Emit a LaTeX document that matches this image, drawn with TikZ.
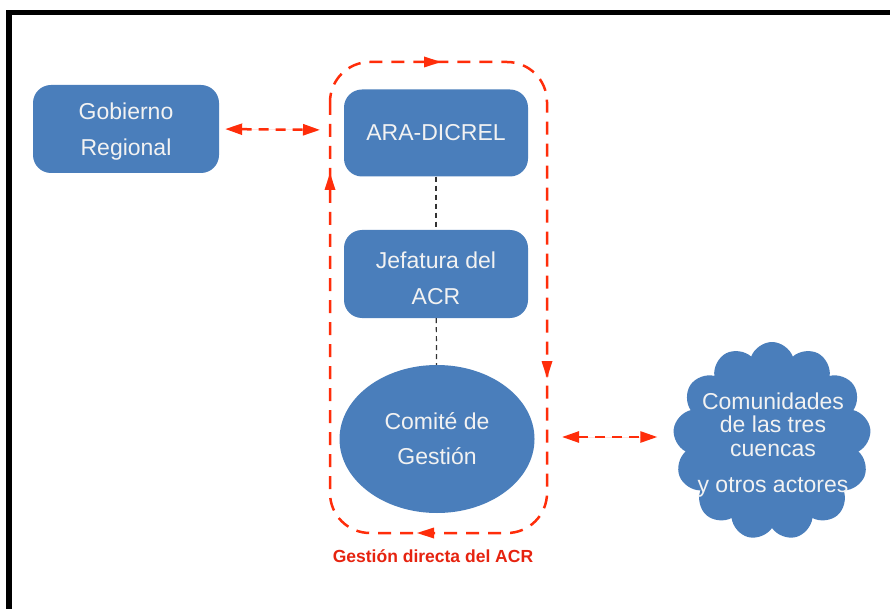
\documentclass[tikz,border=0pt]{standalone}
\usepackage{fontspec}
\setmainfont{Liberation Sans}
\usetikzlibrary{arrows.meta,shapes.geometric,shapes.symbols}
\definecolor{boxblue}{RGB}{74,126,187}
\definecolor{arrred}{RGB}{255,45,10}
\definecolor{lblred}{RGB}{230,35,15}
\definecolor{txtc}{RGB}{242,242,242}
\newcommand{\topstrut}{\rule{0pt}{0.92em}}
\newcommand{\topstrutb}{\rule{0pt}{1.1em}}
\tikzset{
  bluebox/.style={draw=none, fill=boxblue, rounded corners=18pt, text=txtc, align=center,
    font=\fontsize{23}{36}\selectfont, inner sep=0pt},
  blueell/.style={ellipse, draw=none, fill=boxblue, text=txtc, align=center,
    font=\fontsize{23}{35}\selectfont, inner sep=0pt},
  bluecloud/.style={cloud, cloud puffs=13, cloud puff arc=140, aspect=1, draw=none, fill=boxblue, inner sep=0pt},
  cloudtxt/.style={text=txtc, align=center, font=\fontsize{23}{23.5}\selectfont, inner sep=0pt},
  redtip/.tip={Triangle[length=17pt,width=11pt]},
  redarrow/.style={draw=arrred, fill=arrred, line width=2.5pt, dash pattern=on 10pt off 7pt, {redtip}-{redtip}},
  loopline/.style={draw=arrred, line width=2.5pt, dash pattern=on 13pt off 9pt, rounded corners=40pt},
  conn/.style={draw=black!80, line width=1.2pt, dash pattern=on 5pt off 4pt},
}
\begin{document}
\begin{tikzpicture}[x=1pt,y=-1pt]
\useasboundingbox (0,0) rectangle (890,609);
\fill[white] (0,0) rectangle (890,609);
% frame
\draw[line width=5.5pt] (9,609) -- (9,12.5) -- (890,12.5);

% nodes
\node[bluebox, minimum width=186pt, minimum height=88pt] (gob) at (126,129) {\topstrut Gobierno\\Regional};
\node[bluebox, minimum width=184pt, minimum height=87pt] (ara) at (436,133) {ARA-DICREL};
\node[bluebox, minimum width=184pt, minimum height=88pt] (jef) at (436,274) {\topstrutb Jefatura del\\ACR};
\node[blueell, minimum width=195pt, minimum height=148pt] (com) at (437,439) {Comité de\\Gestión};
\node[bluecloud, minimum width=198pt, minimum height=198pt] (cld) at (772,441) {};
\node[cloudtxt] (cldt) at (773,445) {Comunidades\\de las tres\\cuencas\\[13pt]y otros actores};

% vertical dashed connectors
\draw[conn] (ara) -- (jef);
\draw[conn] (jef) -- (com);

% loop
\draw[loopline] (330,62) rectangle (547,533);
\coordinate (loopL) at (330,130);
\coordinate (loopR) at (547,437);
\fill[arrred] (441,62) -- (424,56.5) -- (424,67.5) -- cycle;
\fill[arrred] (547,378) -- (541.5,361) -- (552.5,361) -- cycle;
\fill[arrred] (417,533) -- (434,527.5) -- (434,538.5) -- cycle;
\fill[arrred] (330,173) -- (324.5,190) -- (335.5,190) -- cycle;

% double arrows
\draw[redarrow, shorten <=15pt, shorten >=18pt] (loopR) -- (loopR -| cld.west);
\draw[redarrow, shorten <=6pt, shorten >=10pt] (gob.east) -- (loopL);

\node[text=lblred, font=\bfseries\fontsize{17.5}{20}\selectfont, inner sep=0pt] (lbl) at (433,556) {Gestión directa del ACR};
\end{tikzpicture}
\end{document}
